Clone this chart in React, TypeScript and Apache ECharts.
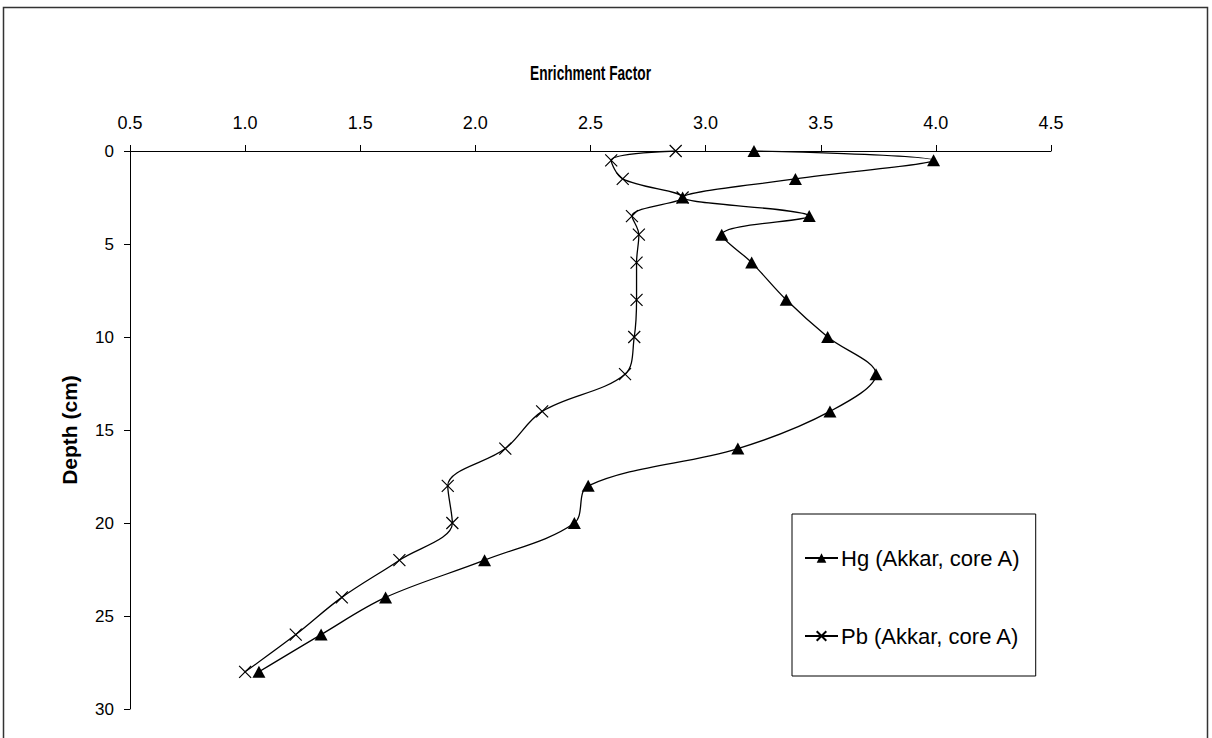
import React, { useEffect, useRef } from "react";
import * as echarts from "echarts";

const depths = [0, 0.5, 1.5, 2.5, 3.5, 4.5, 6, 8, 10, 12, 14, 16, 18, 20, 22, 24, 26, 28];
const hgValues = [3.21, 3.99, 3.39, 2.9, 3.45, 3.07, 3.2, 3.35, 3.53, 3.74, 3.54, 3.14, 2.49, 2.43, 2.04, 1.61, 1.33, 1.06];
const pbValues = [2.87, 2.59, 2.64, 2.9, 2.68, 2.71, 2.7, 2.7, 2.69, 2.65, 2.29, 2.13, 1.88, 1.9, 1.67, 1.42, 1.22, 1.0];
const seriesNames = ["Hg (Akkar, core A)", "Pb (Akkar, core A)"];
const xTitle = "Enrichment Factor";
const yTitle = "Depth (cm)";

const FONT = "'Liberation Sans', Arial, sans-serif";

export default function App() {
  const ref = useRef<HTMLDivElement>(null);
  useEffect(() => {
    if (!ref.current) return;
    const chart = echarts.init(ref.current, null, { renderer: "svg" });
    const hgData = depths.map((d, i) => [hgValues[i], d]);
    const pbData = depths.map((d, i) => [pbValues[i], d]);
    chart.setOption({
      animation: false,
      backgroundColor: "#fff",
      textStyle: { fontFamily: FONT, color: "#000" },
      grid: { left: 130, top: 151, right: 161, bottom: 29, containLabel: false },
      graphic: [
        {
          type: "rect",
          shape: { x: 3.5, y: 7.5, width: 1204, height: 745 },
          style: { fill: "none", stroke: "#333", lineWidth: 1.5 },
          silent: true,
          z: 0,
        },
        {
          type: "text",
          x: 590.5,
          y: 73,
          scaleX: 0.685,
          silent: true,
          style: {
            text: xTitle,
            fontFamily: FONT,
            fontSize: 20,
            fontWeight: "bold",
            fill: "#000",
            align: "center",
            verticalAlign: "middle",
          },
        },
      ],
      legend: {
        orient: "vertical",
        left: 792,
        top: 514,
        padding: [33, 15, 29, 12],
        itemGap: 56,
        itemWidth: 33,
        itemHeight: 12,
        borderColor: "#000",
        borderWidth: 1,
        backgroundColor: "#fff",
        textStyle: { fontFamily: FONT, fontSize: 22, color: "#000", padding: [0, 0, 0, -2] },
        data: seriesNames,
      },
      xAxis: {
        type: "value",
        position: "top",
        min: 0.5,
        max: 4.5,
        interval: 0.5,
        axisLine: { lineStyle: { color: "#000", width: 1 } },
        axisTick: { show: true, inside: false, length: 6, lineStyle: { color: "#000" } },
        axisLabel: {
          fontFamily: FONT,
          fontSize: 18,
          color: "#000",
          margin: 19,
          formatter: (v: number) => v.toFixed(1),
        },
        splitLine: { show: false },
      },
      yAxis: {
        type: "value",
        inverse: true,
        min: 0,
        max: 30,
        interval: 5,
        name: yTitle,
        nameLocation: "middle",
        nameGap: 50,
        nameTextStyle: { fontFamily: FONT, fontSize: 21, fontWeight: "bold", color: "#000" },
        axisLine: { show: true, lineStyle: { color: "#000", width: 1 } },
        axisTick: { show: true, inside: false, length: 6, lineStyle: { color: "#000" } },
        axisLabel: { fontFamily: FONT, fontSize: 17, color: "#000", margin: 16 },
        splitLine: { show: false },
      },
      series: [
        {
          name: seriesNames[0],
          type: "line",
          data: hgData,
          smooth: 0.35,
          symbol: "triangle",
          symbolSize: [13, 12],
          showAllSymbol: true,
          lineStyle: { color: "#000", width: 1.3 },
          itemStyle: { color: "#000", borderColor: "#000", borderWidth: 0 },
          z: 3,
        },
        {
          name: seriesNames[1],
          type: "line",
          data: pbData,
          smooth: 0.35,
          symbol: "path://M0,0L10,10M10,0L0,10",
          symbolSize: 12,
          showAllSymbol: true,
          lineStyle: { color: "#000", width: 1.3 },
          itemStyle: { color: "#000", borderColor: "#000", borderWidth: 1.2 },
          z: 2,
        },
      ],
    });
    return () => chart.dispose();
  }, []);
  return (
    <div
      ref={ref}
      style={{ position: "fixed", left: 0, top: 0, width: 1212, height: 738, background: "#fff" }}
    />
  );
}
